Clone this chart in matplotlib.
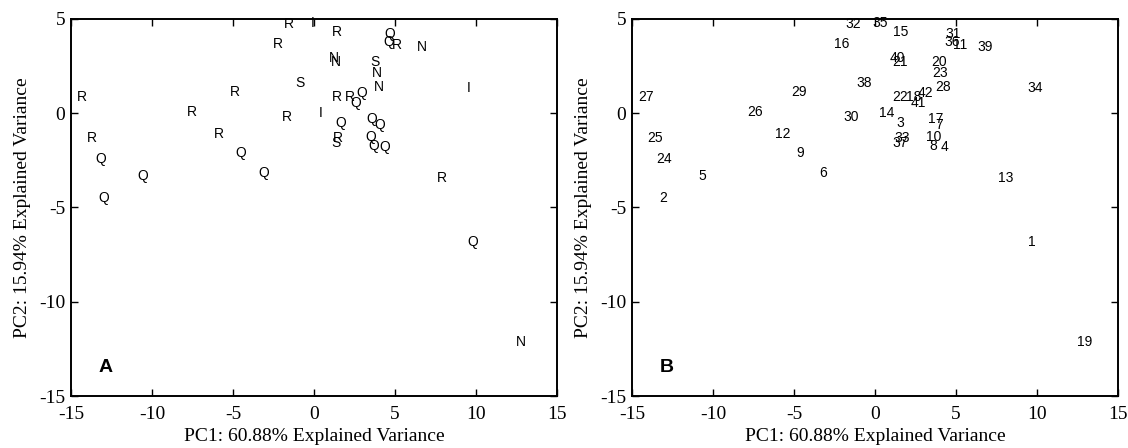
import matplotlib
matplotlib.use("Agg")
import matplotlib.pyplot as plt

# PCA scores of the 42 samples (PC1, PC2)
pc1 = [9.46, -13.31, 1.30, 4.06, -10.88, -3.44, 3.70, 3.36, -4.83, 3.15,
       4.80, -6.15, 7.57, 0.27, 1.09, -2.51, 3.25, 1.92, 12.49, 3.46,
       1.07, 1.09, 3.56, -13.52, -14.03, -7.86, -14.61, 3.70, -5.20, -1.96,
       4.34, -1.85, 1.17, 9.43, -0.17, 4.28, 1.09, -1.17, 6.34, 0.93,
       2.22, 2.64]
pc2 = [-6.81, -4.51, -0.53, -1.77, -3.31, -3.15, -0.62, -1.74, -2.12, -1.28,
       3.62, -1.12, -3.45, 0.00, 4.33, 3.66, -0.31, 0.85, -12.12, 2.73,
       2.70, 0.88, 2.12, -2.43, -1.33, 0.08, 0.88, 1.41, 1.14, -0.21,
       4.20, 4.72, -1.30, 1.32, 4.77, 3.76, -1.59, 1.59, 3.53, 2.92,
       0.56, 1.09]

# Class letter of each sample
classes = ["Q", "Q", "Q", "Q", "Q", "Q", "Q", "Q", "Q", "Q",
           "R", "R", "R", "I", "R", "R", "Q", "R", "N", "S",
           "N", "R", "N", "Q", "R", "R", "R", "N", "R", "R",
           "Q", "R", "R", "I", "I", "Q", "S", "S", "N", "N",
           "Q", "Q"]
sample_ids = [str(i) for i in range(1, len(pc1) + 1)]

x_label = "PC1: 60.88% Explained Variance"
y_label = "PC2: 15.94% Explained Variance"
x_ticks = [-15, -10, -5, 0, 5, 10, 15]
y_ticks = [-15, -10, -5, 0, 5]
panel_names = ["A", "B"]

fig = plt.figure(figsize=(11.28, 4.48), dpi=100)
ax_a = fig.add_axes([71 / 1128, 52 / 448, 486 / 1128, 377 / 448])
ax_b = fig.add_axes([632 / 1128, 52 / 448, 486 / 1128, 377 / 448])

serif = ["Liberation Serif", "DejaVu Serif"]
sans = ["Liberation Sans", "DejaVu Sans"]

for ax, labels, name in [(ax_a, classes, panel_names[0]),
                         (ax_b, sample_ids, panel_names[1])]:
    ax.set_xlim(-15, 15)
    ax.set_ylim(-15, 5)
    for x, y, t in zip(pc1, pc2, labels):
        ax.text(x, y, t, ha="left", va="center", fontsize=10,
                family=sans, color="black")
    ax.set_xticks(x_ticks)
    ax.set_yticks(y_ticks)
    ax.set_xticklabels([str(v) for v in x_ticks], family=serif, fontsize=14)
    ax.set_yticklabels([str(v) for v in y_ticks], family=serif, fontsize=14)
    ax.tick_params(direction="in", top=True, right=True, length=5,
                   width=1.0, color="black")
    ax.tick_params(axis="x", pad=7)
    ax.tick_params(axis="y", pad=4)
    for sp in ax.spines.values():
        sp.set_linewidth(1.4)
        sp.set_color("black")
    ax.set_xlabel(x_label, family=serif, fontsize=14, labelpad=4)
    ax.set_ylabel(y_label, family=serif, fontsize=14, labelpad=6)
    ax.text(-13.3, -13.5, name, ha="left", va="center", fontsize=14,
            fontweight="bold", family=sans)

fig.savefig("out.png", dpi=100)
